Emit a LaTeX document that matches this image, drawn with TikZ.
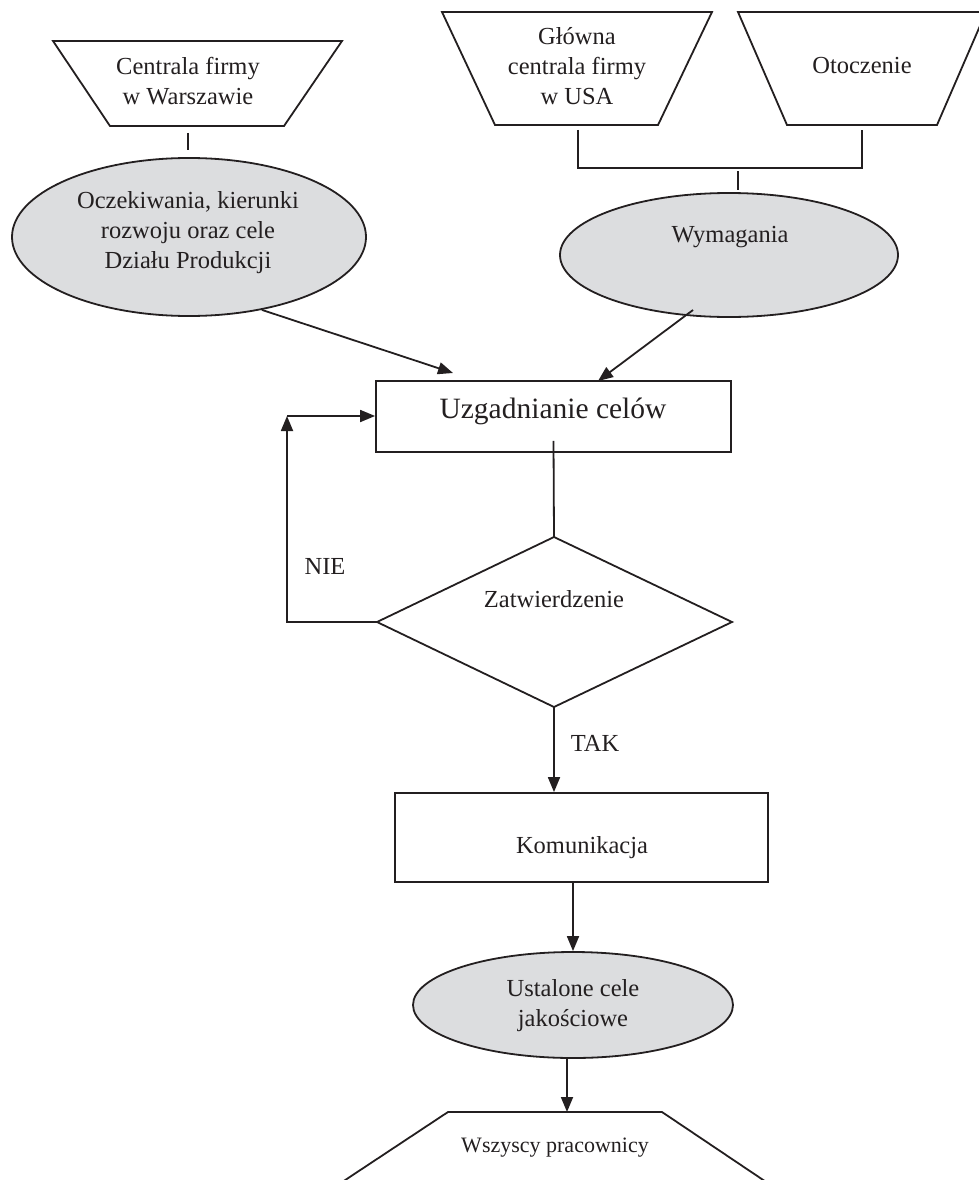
\documentclass[tikz,border=0pt]{standalone}
\usepackage{fontspec}
\setmainfont{Liberation Serif}
\usetikzlibrary{arrows.meta,shapes.geometric}
\definecolor{ink}{HTML}{231F20}
\definecolor{shade}{HTML}{DCDDDF}

\begin{document}
\begin{tikzpicture}[x=1pt,y=-1pt,
  line/.style={draw=ink,line width=1.8pt,line join=miter},
  arr/.style={line,-{Triangle[length=15pt,width=12pt]}},
  oval/.style={ellipse,draw=ink,fill=shade,line width=1.8pt,inner sep=0pt},
  box/.style={rectangle,draw=ink,line width=1.8pt,inner sep=0pt},
  txt/.style={text=ink,align=center,inner sep=0pt,font=\fontsize{24.5}{30}\selectfont},
  bigtxt/.style={txt,font=\fontsize{29.5}{35}\selectfont},
  smalltxt/.style={txt,font=\fontsize{22}{27}\selectfont},
]
\clip (0,0) rectangle (979,1180);

% --- sources (inverted trapezia) ---
\draw[line] (53,41) -- (342,41) -- (284,126) -- (110,126) -- cycle;
\node[txt] (hqpl) at (188,81) {Centrala firmy\\w Warszawie};

\draw[line] (442,12) -- (712,12) -- (658,125) -- (495,125) -- cycle;
\node[txt] (hqusa) at (577,66) {Główna\\centrala firmy\\w USA};

\draw[line] (738,12) -- (986,12) -- (937,125) -- (787,125) -- cycle;
\node[txt] (env) at (862,66) {Otoczenie};

% --- inputs ---
\node[oval,minimum width=354pt,minimum height=158pt] (expect) at (189,237) {};
\node[txt] at (188,233) {Oczekiwania, kierunki\\rozwoju oraz cele\\Działu Produkcji};

\node[oval,minimum width=338pt,minimum height=124pt] (req) at (729,255) {};
\node[txt] (reqtxt) at (730,237) {Wymagania};

% stubs linking sources with inputs
\coordinate (s1a) at (188,133);
\coordinate (s1b) at (188,150);
\draw[line] (s1a) -- (s1b);
\coordinate (bl) at (578,130);
\coordinate (br) at (862,130);
\draw[line] (bl) -- (578,168) -- (862,168) -- (br);
\coordinate (s2a) at (738,171);
\coordinate (s2b) at (738,190);
\draw[line] (s2a) -- (s2b);

% --- agreeing the goals ---
\node[box,minimum width=355pt,minimum height=71pt] (agree) at (553.5,416.5) {};
\node[bigtxt] (agreetxt) at (553,411) {Uzgadnianie celów};

\coordinate (agreeinA) at (453,373);
\coordinate (agreeinB) at (598,381);
\coordinate (reqout) at (693,310);
\draw[arr] (expect.-45) -- (agreeinA);
\draw[arr] (reqout) -- (agreeinB);

% --- decision ---
\coordinate (dN) at (554,537);
\coordinate (dE) at (732,622);
\coordinate (dS) at (554,707);
\coordinate (dW) at (377,622);
\draw[line] (dN) -- (dE) -- (dS) -- (dW) -- cycle;
\node[txt] (approve) at (554,599) {Zatwierdzenie};

\draw[line] ([yshift=12pt]agree.south) -- (dN);

% NIE loop back
\coordinate (nieCorner) at (287,622);
\coordinate (loopTop) at (287,416);
\draw[arr] (dW) -- (nieCorner) -- (loopTop);
\draw[arr] (loopTop) -- (loopTop -| agree.west);
\node[txt] (nie) at (325,566) {NIE};

% --- communication ---
\node[box,minimum width=373pt,minimum height=89pt] (comm) at (581.5,837.5) {};
\node[txt] (commtxt) at (582,848) {Komunikacja};

\draw[arr] (dS) -- (dS |- comm.north);
\node[txt] (tak) at (595,743) {TAK};

% --- fixed quality goals ---
\node[oval,minimum width=320pt,minimum height=106pt] (goals) at (573,1005) {};
\node[txt] (goalstxt) at (573,1006) {Ustalone cele\\jakościowe};
\draw[arr] (comm.south -| goals.north) -- (goals.north);

% --- all employees ---
\coordinate (allTL) at (448,1112);
\coordinate (allTR) at (662,1112);
\coordinate (allArr) at (567,1112);
\draw[line] (315,1200) -- (allTL) -- (allTR) -- (793,1200);
\node[smalltxt] (alltxt) at (555,1148) {Wszyscy pracownicy};
\draw[arr] (goals.south -| allArr) -- (allArr);

\end{tikzpicture}
\end{document}
